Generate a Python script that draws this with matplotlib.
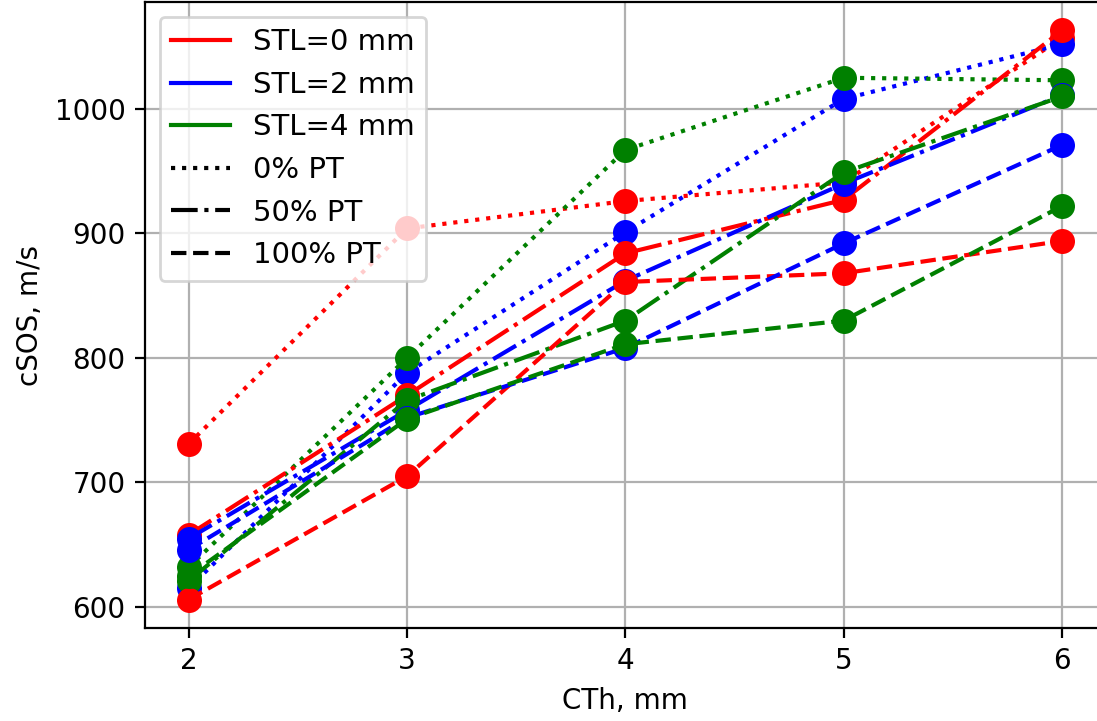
import matplotlib
matplotlib.use('Agg')
from matplotlib import pyplot as plt
from matplotlib.lines import Line2D

# cortical thickness, mm
cth = [2, 3, 4, 5, 6]

# cSOS values, one list per STL / PT combination
stl0_pt0 = [731, 904, 926, 941, 1057]
stl0_pt50 = [658, 770, 884, 927, 1063]
stl0_pt100 = [606, 705, 861, 868, 894]

stl2_pt0 = [615, 788, 901, 1008, 1052]
stl2_pt50 = [655, 758, 862, 940, 1011]
stl2_pt100 = [646, 752, 808, 892, 971]

stl4_pt0 = [632, 800, 967, 1025, 1023]
stl4_pt50 = [621, 766, 830, 949, 1010]
stl4_pt100 = [625, 751, 811, 830, 922]

stl_labels = ['STL=0 mm', 'STL=2 mm', 'STL=4 mm']
pt_labels = ['0% PT', '50% PT', '100% PT']

colors = ['red', 'blue', 'green']
styles = [':', '-.', '--']

series = {
    0: [stl0_pt0, stl2_pt0, stl4_pt0],
    1: [stl0_pt50, stl2_pt50, stl4_pt50],
    2: [stl0_pt100, stl2_pt100, stl4_pt100],
}

fig = plt.figure(figsize=(1097 / 200, 721 / 200), dpi=200)
# axes run a bit past the right edge, like the cropped original
ax = fig.add_axes([0.1322, 0.129, 0.8757, 0.8682])

for p in range(3):
    for s in range(3):
        ax.plot(cth, series[p][s], color=colors[s], linestyle=styles[p],
                marker='o', markersize=8, linewidth=1.5)

ax.set_xlim(1.8, 6.2)
ax.set_xticks(cth)
ax.set_yticks([600, 700, 800, 900, 1000])
ax.grid(True)
ax.set_axisbelow(True)
ax.set_xlabel('CTh, mm')
ax.set_ylabel('cSOS, m/s')

handles = [Line2D([0], [0], color=c, linestyle='-') for c in colors]
handles += [Line2D([0], [0], color='black', linestyle=st) for st in styles]
ax.legend(handles, stl_labels + pt_labels, loc='upper left', fontsize=10.5)

fig.savefig('out.png', dpi=200)
